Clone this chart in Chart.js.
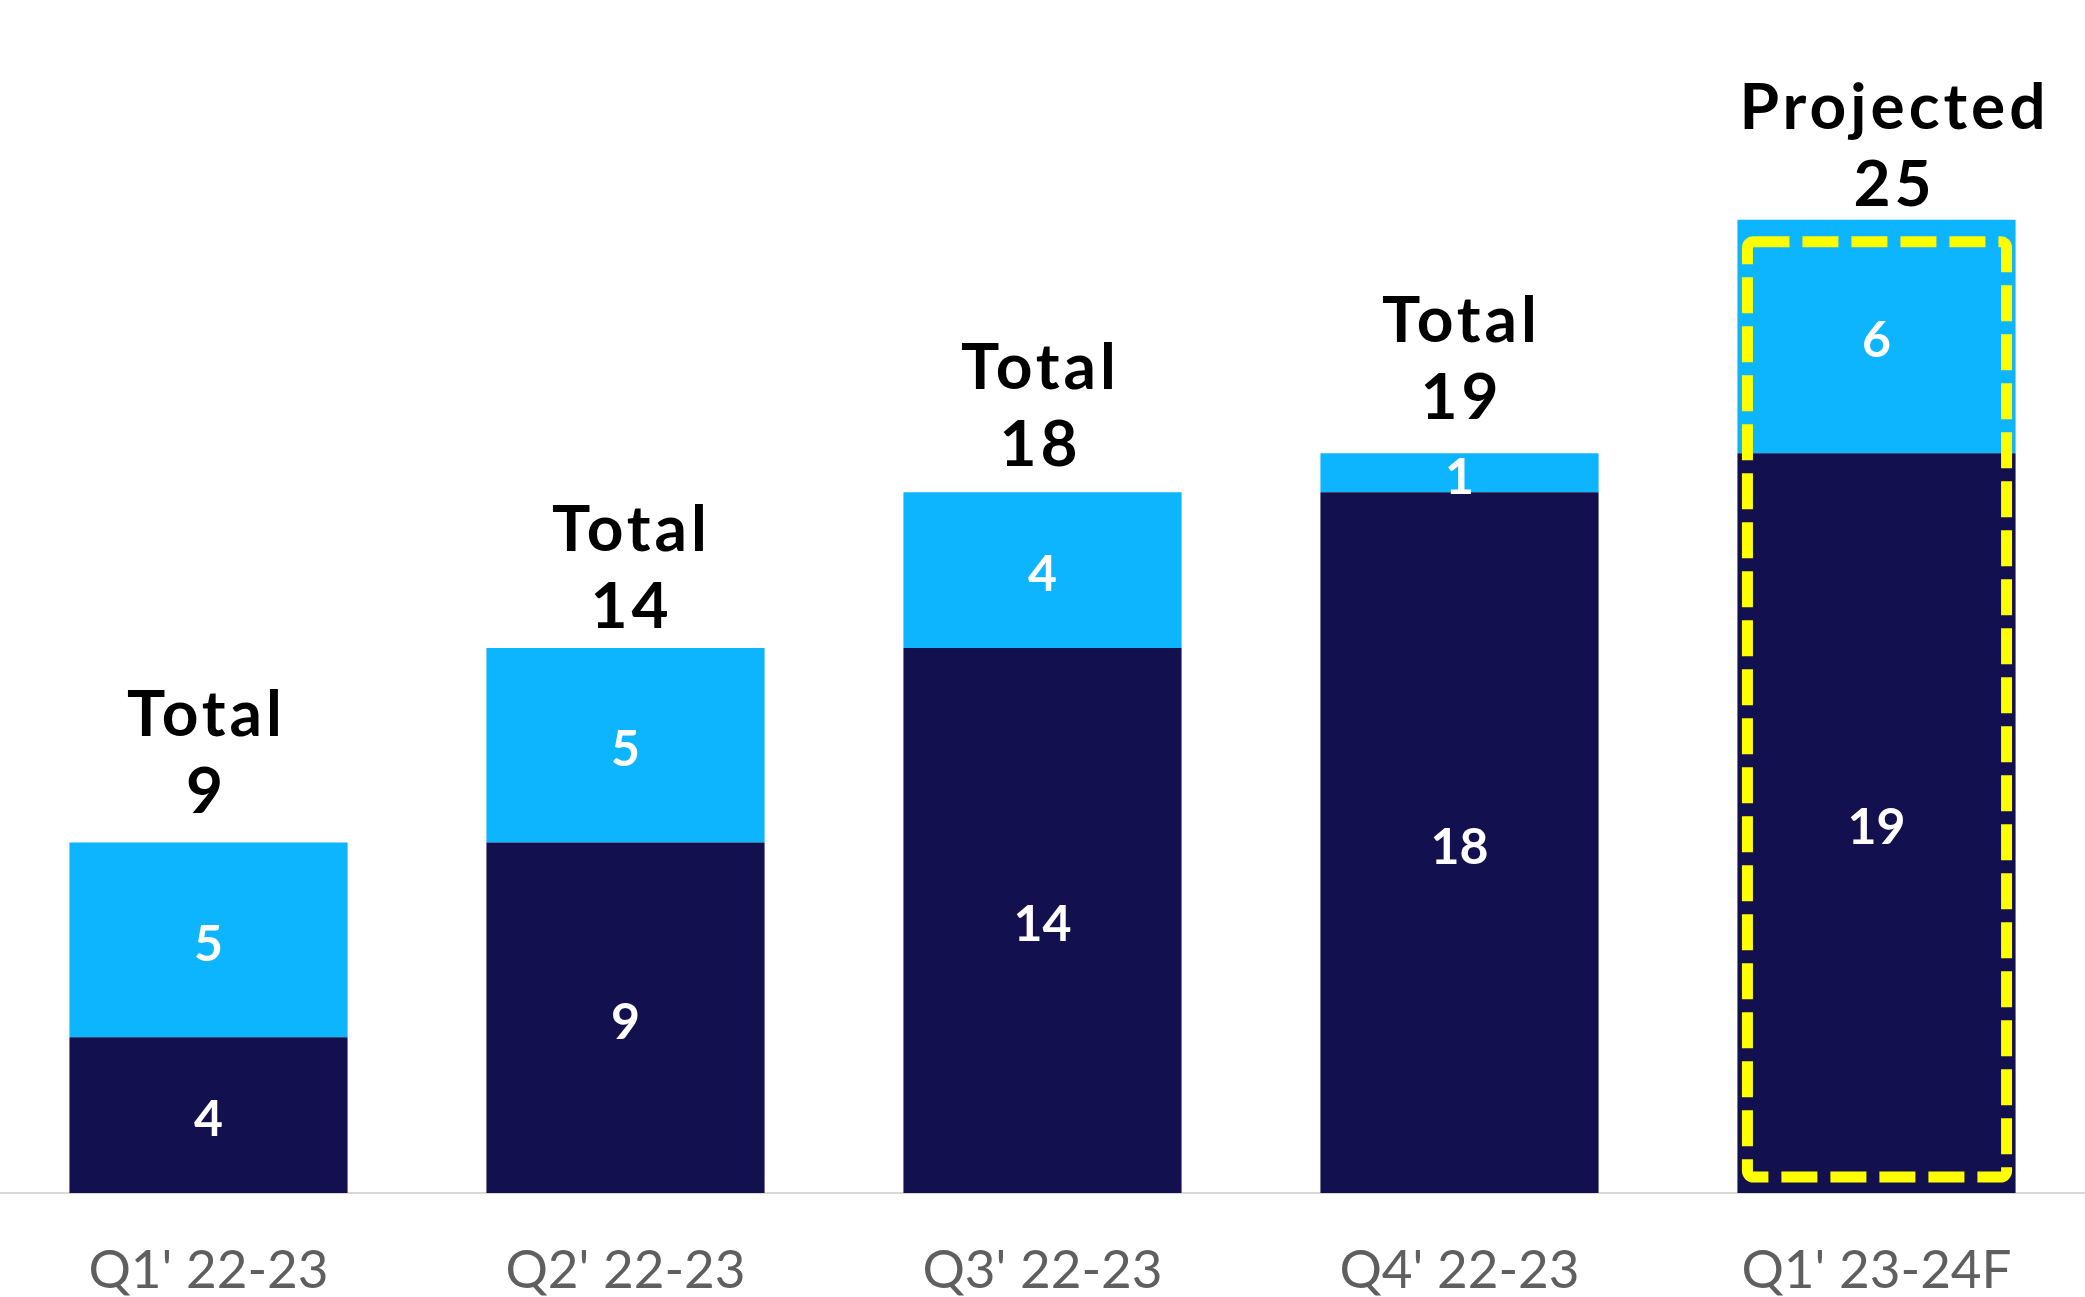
<!DOCTYPE html>
<html>
<head>
  <title>Quarterly totals</title>
  <script src="https://cdn.jsdelivr.net/npm/chart.js"></script>
  <style>
    body { margin: 0; background: #ffffff; }
    .chart-container { width: 2085px; height: 1297px; }
  </style>
</head>

<body>
  <div class="chart-container">
    <canvas id="totals-chart"></canvas>
  </div>

  <script>
    // Quarters and stacked values
    var categories = ["Q1' 22-23", "Q2' 22-23", "Q3' 22-23", "Q4' 22-23", "Q1' 23-24F"];
    var baseValues = [4, 9, 14, 18, 19];
    var addedValues = [5, 5, 4, 1, 6];
    var headings = ['Total', 'Total', 'Total', 'Total', 'Projected'];

    // Placement of the headings above each bar (px)
    var headingGap = [30, 20, 26, 34, 14];
    var headingShift = [-2, 6, -2, 2, 18];

    var DARK = '#13104f';
    var LIGHT = '#0db4fe';

    // Draws segment values, totals above bars and the dashed box on the forecast bar
    var labelPlugin = {
      id: 'barLabels',
      afterDatasetsDraw: function (chart) {
        var ctx = chart.ctx;
        var bottomMeta = chart.getDatasetMeta(0);
        var topMeta = chart.getDatasetMeta(1);

        ctx.save();
        ctx.textAlign = 'center';
        ctx.textBaseline = 'alphabetic';
        ctx.fillStyle = '#ffffff';
        ctx.font = 'bold 50px Lato';
        [bottomMeta, topMeta].forEach(function (meta, d) {
          meta.data.forEach(function (bar, i) {
            var mid = (bar.y + bar.base) / 2;
            ctx.fillText(String(chart.data.datasets[d].data[i]), bar.x, mid + 21);
          });
        });

        ctx.fillStyle = '#000000';
        ctx.font = 'bold 64px Lato';
        ctx.letterSpacing = '4px';
        topMeta.data.forEach(function (bar, i) {
          var total = baseValues[i] + addedValues[i];
          var x = bar.x + headingShift[i];
          var y = bar.y - headingGap[i];
          ctx.fillText(String(total), x, y);
          ctx.fillText(headings[i], x, y - 77);
        });
        ctx.letterSpacing = '0px';

        // dashed highlight around the projected quarter
        var last = categories.length - 1;
        var top = topMeta.data[last];
        var base = bottomMeta.data[last];
        var half = top.width / 2;
        var left = top.x - half + 10;
        var right = top.x + half - 9;
        var upper = top.y + 22;
        var lower = base.base - 16;
        ctx.strokeStyle = '#ffff00';
        ctx.lineWidth = 11;
        ctx.setLineDash([36, 13]);
        ctx.beginPath();
        ctx.roundRect(left, upper, right - left, lower - upper, 6);
        ctx.stroke();
        ctx.restore();
      }
    };

    var config = {
      type: 'bar',
      data: {
        labels: categories,
        datasets: [{
          label: 'Base',
          data: baseValues,
          backgroundColor: DARK,
          borderWidth: 0
        }, {
          label: 'Added',
          data: addedValues,
          backgroundColor: LIGHT,
          borderWidth: 0
        }]
      },
      options: {
        responsive: true,
        maintainAspectRatio: false,
        animation: false,
        layout: { padding: { top: 25, left: 0, right: -3, bottom: 0 } },
        datasets: { bar: { categoryPercentage: 1, barPercentage: 0.667 } },
        plugins: {
          legend: { display: false },
          tooltip: { enabled: false }
        },
        scales: {
          x: {
            stacked: true,
            grid: { display: false, drawTicks: false },
            border: { display: true, color: '#d9d9d9', width: 2 },
            ticks: {
              color: '#5f5f5f',
              font: { family: 'Lato', size: 53 },
              padding: 46
            },
            afterFit: function (scale) { scale.height = 104; }
          },
          y: {
            stacked: true,
            display: false,
            min: 0,
            max: 30
          }
        }
      },
      plugins: [labelPlugin]
    };

    var ctx = document.getElementById('totals-chart').getContext('2d');
    var chart = new Chart(ctx, config);
  </script>
</body>
</html>
